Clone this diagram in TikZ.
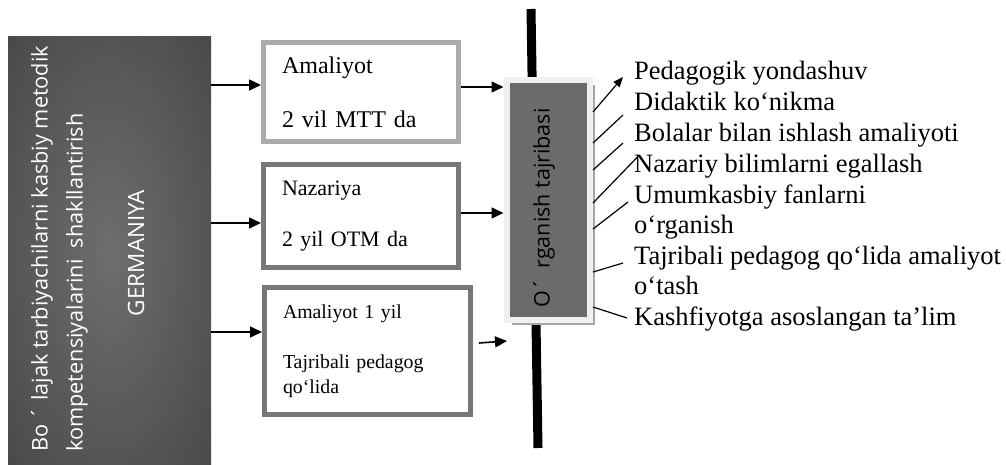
\documentclass[tikz,border=0pt]{standalone}
\usepackage{fontspec}
\setmainfont{Liberation Serif}
\newfontfamily\osans{Open Sans}
\usepackage{tikz}
\usetikzlibrary{arrows.meta,calc,shadows}
\definecolor{glowin}{HTML}{6E6E6E}
\definecolor{glowout}{HTML}{3A3A3A}
\definecolor{lightrim}{HTML}{ABABAB}
\definecolor{darkrim}{HTML}{777777}
\definecolor{paleframe}{HTML}{F0F0F0}
\definecolor{midfill}{HTML}{6B6B6B}
\pgfdeclareradialshading{glow}{\pgfpoint{0bp}{0bp}}{color(0bp)=(glowin); color(50bp)=(glowout); color(72bp)=(glowout)}

\begin{document}
\begin{tikzpicture}[x=1pt,y=-1pt,
  arr/.style={-{Triangle[length=12pt,width=11pt]},line width=1.6pt},
  stagebox/.style={draw,line width=5pt,fill=white,align=left,inner xsep=18.5pt,inner ysep=0pt},
  item/.style={anchor=base west,inner sep=0pt,align=left,font=\fontsize{26.5}{30.5}\selectfont},
  link/.style={line width=1.2pt},
  sidetext/.style={rotate=90,inner sep=0pt,font=\osans\fontsize{21.7}{35}\selectfont}]
\useasboundingbox (0,0) rectangle (1006,465);

\node [shading=glow, minimum width=203pt, minimum height=433pt, inner sep=0pt] (ger) at (109.5,253.5) {};
\node [sidetext, text=white, anchor=south west, align=left] (gertxt) at (88,452) {Bo ´ lajak tarbiyachilarni kasbiy metodik\\kompetensiyalarini\ \ shakllantirish};
\node [sidetext, text=white, font=\osans\fontsize{22.5}{30}\selectfont] (gername) at (136,253) {GERMANIYA};

\node [stagebox, draw=lightrim, minimum width=195pt, minimum height=99pt, text width=158pt, font=\fontsize{24}{54}\selectfont] (mtt) at (361,92) {Amaliyot\\2 vil MTT da};
\node [stagebox, draw=darkrim, minimum width=195pt, minimum height=103pt, text width=158pt, font=\fontsize{22}{51}\selectfont] (otm) at (361,216) {Nazariya\\2 yil OTM da};
\node [stagebox, draw=darkrim, minimum width=206pt, minimum height=127pt, text width=169pt, font=\fontsize{19.8}{25}\selectfont] (prak) at (367.5,351) {Amaliyot 1 yil\\[25pt]Tajribali pedagog\\qo‘lida};

\coordinate (bartop) at (531,9); \coordinate (barbot) at (538,448); \draw [line width=9pt] (bartop) -- (barbot);
\node [draw=paleframe, line width=6pt, fill=midfill, minimum width=83.5pt, minimum height=240pt, inner sep=0pt, drop shadow={shadow xshift=5pt,shadow yshift=-5pt,fill=gray!70,opacity=1}] (org) at (548.25,200) {};
\node [sidetext, font=\osans\fontsize{21.5}{30}\selectfont] (orgtxt) at (544,208) {O´\hspace{10pt}rganish tajribasi};

\draw [arr] (ger.east |- 0,85) -- (mtt.west |- 0,85);
\draw [arr] (ger.east |- 0,223) -- (otm.west |- 0,223);
\draw [arr] (ger.east |- 0,332) -- (prak.west |- 0,332);
\draw [arr] (mtt.east |- 0,87) -- (org.west |- 0,87);
\draw [arr] (otm.east |- 0,213) -- (org.west |- 0,213);
\coordinate (prakend) at (507,341); \draw [arr] ($(prak.east |- 0,343)+(6,0)$) -- (prakend);

\node [item] (ped) at (634,80) {Pedagogik yondashuv};
\node [item] (did) at (634,111) {Didaktik ko‘nikma};
\node [item] (bol) at (634,142) {Bolalar bilan ishlash amaliyoti};
\node [item] (naz) at (634,172.5) {Nazariy bilimlarni egallash};
\node [item] (umum) at (634,233.5) {Umumkasbiy fanlarni\\o‘rganish};
\node [item] (ustoz) at (634,294.5) {Tajribali pedagog qo‘lida amaliyot\\o‘tash};
\node [item] (kashf) at (634,325) {Kashfiyotga asoslangan ta’lim};

\draw [link,-{Triangle[length=10pt,width=8pt]}] (org.east |- 0,112) -- ($(ped.base west)+(-11,-3)$);
\draw [link] (org.east |- 0,143) -- ($(did.base west)+(-11,4)$);
\draw [link] (org.east |- 0,170) -- ($(bol.base west)+(-11,1)$);
\draw [link] (org.east |- 0,203) -- ($(naz.base west)+(3,-15)$);
\draw [link] (org.east |- 0,229) -- ($(umum.base west)+(-6,-31.5)$);
\draw [link] (org.east |- 0,272) -- ($(ustoz.base west)+(-11,-31.5)$);
\draw [link] (org.east |- 0,307) -- ($(kashf.base west)+(-7,-7)$);
\end{tikzpicture}
\end{document}
